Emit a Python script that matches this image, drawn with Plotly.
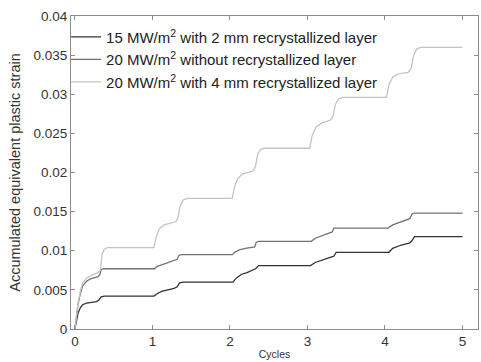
import plotly.graph_objects as go

# Series: 15 MW/m2 with 2 mm recrystallized layer (dark)
x_15_2mm = [0, 0.02, 0.04, 0.07, 0.1, 0.15, 0.22, 0.28, 0.31, 0.34, 0.38, 1.02, 1.06, 1.12, 1.2, 1.28, 1.32, 1.35, 1.4,
            2.04, 2.08, 2.15, 2.22, 2.3, 2.33, 2.37, 3.04, 3.1, 3.2, 3.3, 3.34, 3.37, 4.05, 4.1, 4.2, 4.32, 4.35, 4.38, 5.0]
y_15_2mm = [0, 0.0010, 0.0020, 0.0027, 0.0031, 0.0033, 0.0034, 0.0035, 0.0037, 0.0041, 0.0042, 0.0042, 0.0045, 0.0048,
            0.0050, 0.0052, 0.0054, 0.0059, 0.0060, 0.0060, 0.0065, 0.0070, 0.0072, 0.0075, 0.0077, 0.0081, 0.0081,
            0.0085, 0.0088, 0.0091, 0.0093, 0.0098, 0.0098, 0.0103, 0.0107, 0.0110, 0.0113, 0.0118, 0.0118]

# Series: 20 MW/m2 without recrystallized layer (medium)
x_20_none = [0, 0.02, 0.04, 0.07, 0.1, 0.15, 0.2, 0.3, 0.32, 0.34, 0.37, 1.03, 1.06, 1.12, 1.2, 1.3, 1.32, 1.34, 1.37,
             2.03, 2.06, 2.12, 2.2, 2.32, 2.34, 2.37, 3.05, 3.1, 3.2, 3.3, 3.32, 3.34, 4.04, 4.1, 4.2, 4.32, 4.35, 4.38, 5.0]
y_20_none = [0, 0.0017, 0.0031, 0.0045, 0.0055, 0.0061, 0.0064, 0.0067, 0.0069, 0.0076, 0.0077, 0.0077, 0.0080, 0.0082,
             0.0085, 0.0088, 0.0089, 0.0094, 0.0095, 0.0095, 0.0098, 0.0101, 0.0103, 0.0105, 0.0111, 0.0112, 0.0112,
             0.0116, 0.0120, 0.0123, 0.0124, 0.0129, 0.0129, 0.0133, 0.0137, 0.0141, 0.0147, 0.0148, 0.0148]

# Series: 20 MW/m2 with 4 mm recrystallized layer (light)
x_20_4mm = [0, 0.02, 0.04, 0.07, 0.1, 0.15, 0.2, 0.3, 0.33, 0.35, 0.38, 0.42, 1.02, 1.05, 1.09, 1.15, 1.3, 1.33, 1.36,
            1.40, 1.45, 2.03, 2.06, 2.1, 2.16, 2.3, 2.33, 2.36, 2.40, 2.45, 3.03, 3.06, 3.11, 3.18, 3.3, 3.33, 3.36,
            3.4, 3.45, 4.02, 4.05, 4.1, 4.17, 4.3, 4.34, 4.37, 4.41, 4.46, 5.0]
y_20_4mm = [0, 0.0018, 0.0033, 0.0048, 0.0059, 0.0065, 0.0068, 0.0072, 0.0075, 0.0095, 0.0102, 0.0104, 0.0104, 0.0118,
            0.0128, 0.0133, 0.0137, 0.0142, 0.0158, 0.0165, 0.0167, 0.0167, 0.0182, 0.0192, 0.0198, 0.0202, 0.0208,
            0.0224, 0.0230, 0.0231, 0.0231, 0.0247, 0.0258, 0.0263, 0.0267, 0.0272, 0.0287, 0.0294, 0.0296, 0.0296,
            0.0312, 0.0322, 0.0326, 0.0328, 0.0334, 0.0350, 0.0358, 0.0360, 0.0360]

series_names = ["15 MW/m<sup>2</sup> with 2 mm recrystallized layer",
                "20 MW/m<sup>2</sup> without recrystallized layer",
                "20 MW/m<sup>2</sup> with 4 mm recrystallized layer"]

x_tickvals = [0, 1, 2, 3, 4, 5]
y_tickvals = [0, 0.005, 0.01, 0.015, 0.02, 0.025, 0.03, 0.035, 0.04]
y_ticktext = ["0", "0.005", "0.01", "0.015", "0.02", "0.025", "0.03", "0.035", "0.04"]

colors = ["#333333", "#727272", "#c4c4c4"]
data = [(x_15_2mm, y_15_2mm), (x_20_none, y_20_none), (x_20_4mm, y_20_4mm)]

font = "Liberation Sans, Arial, sans-serif"
fig = go.Figure()
for (xs, ys), name, c in zip(data, series_names, colors):
    fig.add_trace(go.Scatter(x=xs, y=ys, mode="lines", name=name,
                             line=dict(color=c, width=1.3)))

axis_common = dict(showline=True, linecolor="#8c8c8c", linewidth=1, mirror="ticks",
                   ticks="inside", ticklen=4, tickcolor="#8c8c8c", showgrid=False, zeroline=False,
                   tickfont=dict(family=font, size=13.5, color="#333333"))

fig.update_xaxes(range=[-0.05, 5.2], tickvals=x_tickvals,
                 title=dict(text="Cycles", font=dict(family=font, size=10.5, color="#333333"), standoff=2),
                 **axis_common)
fig.update_yaxes(range=[0, 0.04], tickvals=y_tickvals, ticktext=y_ticktext,
                 title=dict(text="Accumulated equivalent plastic strain",
                            font=dict(family=font, size=14.5, color="#333333"), standoff=9),
                 **axis_common)

fig.update_layout(width=481, height=362, margin=dict(l=71, r=3, t=16, b=33),
                  plot_bgcolor="white", paper_bgcolor="white",
                  font=dict(family=font, color="#222222"),
                  showlegend=True,
                  legend=dict(x=-0.012, y=0.985, xanchor="left", yanchor="top",
                              bgcolor="rgba(0,0,0,0)", borderwidth=0,
                              font=dict(family=font, size=15, color="#222222"),
                              itemwidth=30, tracegroupgap=0))
fig.write_html("out.html", config={"displayModeBar": False},
               post_script="document.body.style.margin='0';document.body.style.padding='0';")
